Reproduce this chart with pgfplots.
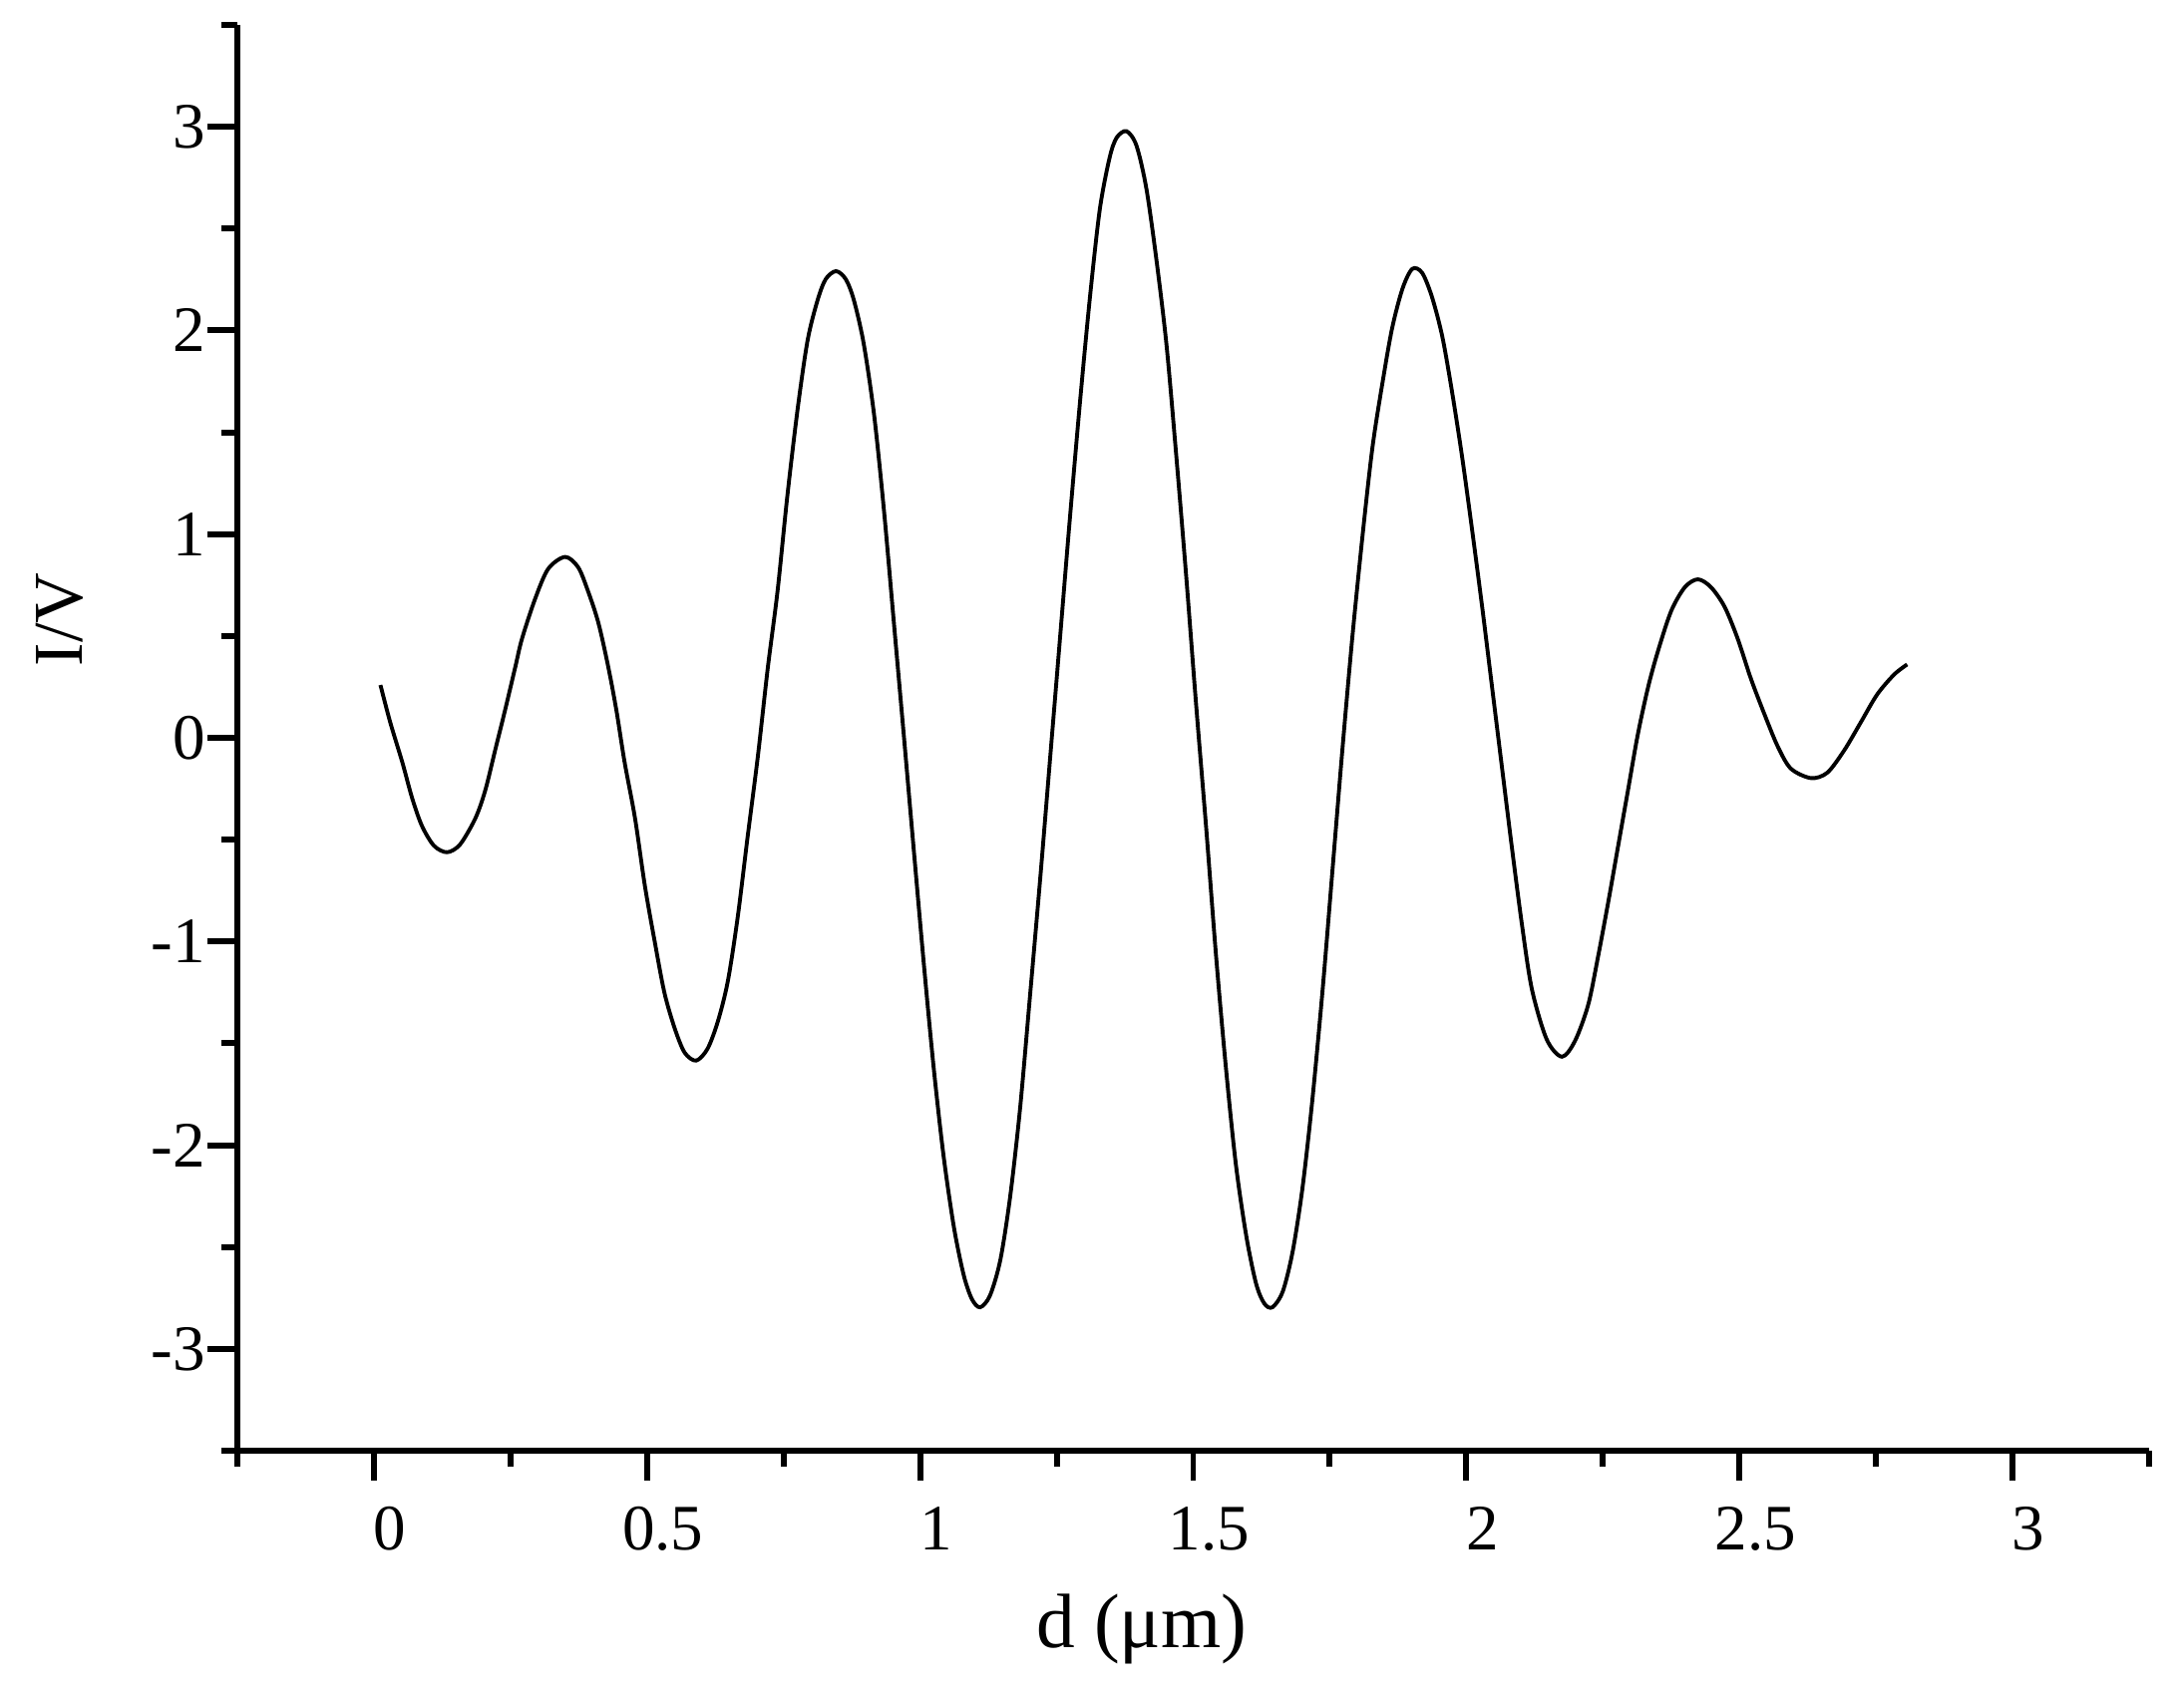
\documentclass[border=0pt]{standalone}
\usepackage{pgfplots}
\pgfplotsset{compat=1.18}
\usepackage{fontspec}
\setmainfont{Liberation Serif}

\begin{document}
\begin{tikzpicture}
\begin{axis}[
    scale only axis,
    width=191.7mm,
    height=143mm,
    xmin=-0.25, xmax=3.25,
    ymin=-3.5, ymax=3.5,
    axis x line=bottom,
    axis y line=left,
    axis line style={-, line width=1.9pt},
    tick align=outside,
    major tick length=3mm,
    minor tick length=1.6mm,
    tick style={line width=1.7pt, black},
    xtick={0,0.5,1,1.5,2,2.5,3},
    xticklabels={0,0.5,1,1.5,2,2.5,3},
    minor xtick={-0.25,0.25,0.75,1.25,1.75,2.25,2.75,3.25},
    ytick={-3,-2,-1,0,1,2,3},
    yticklabels={-3,-2,-1,0,1,2,3},
    minor ytick={-3.5,-2.5,-1.5,-0.5,0.5,1.5,2.5,3.5},
    ticklabel style={font=\fontsize{18.5}{20}\selectfont},
    xticklabel style={xshift=1.6mm, yshift=-1.4mm},
    yticklabel style={xshift=1mm},
    xlabel={d (μm)},
    ylabel={I/V},
    xlabel style={font=\fontsize{22}{24}\selectfont, at={(axis description cs:0.473,0)}, anchor=center, yshift=-17.9mm},
    ylabel style={font=\fontsize{20}{24}\selectfont, at={(axis description cs:0,0.583)}, anchor=center, yshift=17.8mm},
    clip=false,
]
\coordinate (ll) at (rel axis cs:0,0);
\coordinate (ur) at (rel axis cs:1,1);

\addplot[black, line width=1.1pt, smooth] coordinates {
(0.012,0.259) (0.030,0.075) (0.052,-0.120) (0.070,-0.296) (0.088,-0.433)
(0.110,-0.530) (0.134,-0.562) (0.158,-0.523) (0.186,-0.394) (0.204,-0.257)
(0.222,-0.061) (0.240,0.134) (0.259,0.349) (0.271,0.485) (0.295,0.681)
(0.319,0.829) (0.350,0.888) (0.374,0.837) (0.392,0.720) (0.411,0.564)
(0.429,0.349) (0.444,0.134) (0.459,-0.120) (0.478,-0.394) (0.496,-0.725)
(0.514,-0.999) (0.532,-1.253) (0.551,-1.429) (0.569,-1.546) (0.590,-1.585)
(0.611,-1.526) (0.630,-1.390) (0.648,-1.195) (0.666,-0.882) (0.684,-0.491)
(0.703,-0.090) (0.721,0.340) (0.739,0.720) (0.757,1.189) (0.776,1.619)
(0.794,1.951) (0.812,2.146) (0.827,2.251) (0.846,2.291) (0.864,2.251)
(0.879,2.146) (0.897,1.931) (0.916,1.580) (0.934,1.111) (0.952,0.564)
(0.970,0.017) (0.989,-0.569) (1.007,-1.116) (1.025,-1.624) (1.043,-2.054)
(1.062,-2.405) (1.080,-2.640) (1.095,-2.757) (1.110,-2.796) (1.128,-2.738)
(1.147,-2.562) (1.165,-2.250) (1.183,-1.820) (1.201,-1.273) (1.220,-0.687)
(1.238,-0.100) (1.256,0.485) (1.274,1.071) (1.293,1.657) (1.311,2.165)
(1.329,2.595) (1.347,2.849) (1.360,2.947) (1.378,2.978) (1.396,2.908)
(1.414,2.700) (1.432,2.360) (1.451,1.931) (1.469,1.384) (1.487,0.798)
(1.505,0.173) (1.524,-0.452) (1.542,-1.077) (1.560,-1.624) (1.578,-2.093)
(1.597,-2.444) (1.615,-2.679) (1.630,-2.777) (1.645,-2.796) (1.664,-2.718)
(1.682,-2.523) (1.700,-2.211) (1.718,-1.781) (1.737,-1.234) (1.755,-0.648)
(1.773,-0.061) (1.791,0.485) (1.810,0.993) (1.828,1.423) (1.846,1.735)
(1.864,2.009) (1.883,2.204) (1.901,2.302) (1.919,2.283) (1.937,2.165)
(1.956,1.970) (1.974,1.696) (1.992,1.384) (2.010,1.032) (2.029,0.642)
(2.047,0.251) (2.065,-0.140) (2.083,-0.530) (2.102,-0.921) (2.120,-1.234)
(2.147,-1.480) (2.175,-1.566) (2.199,-1.488) (2.223,-1.312) (2.241,-1.077)
(2.260,-0.804) (2.278,-0.530) (2.296,-0.257) (2.314,0.017) (2.333,0.251)
(2.351,0.427) (2.375,0.622) (2.400,0.739) (2.424,0.778) (2.448,0.739)
(2.473,0.642) (2.497,0.485) (2.521,0.290) (2.546,0.114) (2.570,-0.042)
(2.594,-0.151) (2.631,-0.198) (2.661,-0.171) (2.692,-0.061) (2.722,0.075)
(2.752,0.212) (2.783,0.310) (2.807,0.360)
};
\end{axis}
\pgfresetboundingbox
\path ([shift={(-23.8mm,-24mm)}]ll) rectangle ([shift={(3.5mm,2.5mm)}]ur);
\end{tikzpicture}
\end{document}
